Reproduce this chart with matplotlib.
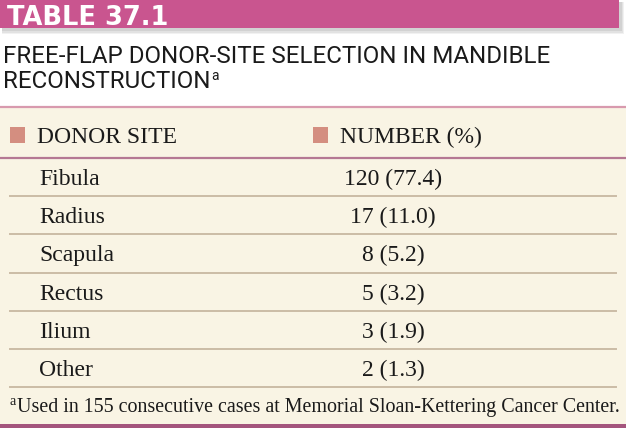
import matplotlib.pyplot as plt
from matplotlib.patches import Rectangle

table_no = "TABLE 37.1"
title_lines = ["FREE-FLAP DONOR-SITE SELECTION IN MANDIBLE", "RECONSTRUCTION"]
headers = ["DONOR SITE", "NUMBER (%)"]
sites = ["Fibula", "Radius", "Scapula", "Rectus", "Ilium", "Other"]
counts = [120, 17, 8, 5, 3, 2]
pcts = [77.4, 11.0, 5.2, 3.2, 1.9, 1.3]
footnote = "Used in 155 consecutive cases at Memorial Sloan-Kettering Cancer Center."

W, H = 626, 428
fig = plt.figure(figsize=(W / 100, H / 100), dpi=100, facecolor='white')
ax = fig.add_axes([0, 0, 1, 1])
ax.set_xlim(0, W)
ax.set_ylim(H, 0)
ax.axis('off')

sans = ['Roboto', 'DejaVu Sans']
serif = ['Liberation Serif', 'DejaVu Serif']
r = fig.canvas.get_renderer()

# pink title bar with soft shadow
for i, a in enumerate([0.10, 0.12, 0.15]):
    ax.add_patch(Rectangle((2, 2), 620 + 2 - i, 32 - i * 1.5, color='#777777', alpha=a, lw=0))
ax.add_patch(Rectangle((0, 0), 619, 28, color='#c9558f', lw=0))
ax.text(7, 25, table_no, color='white', fontsize=18.5, fontweight='bold',
        family='DejaVu Sans', va='baseline')

# title, sized so the first line spans like the reference
t1 = ax.text(3, 63, title_lines[0], fontsize=18.5, family=sans, color='#1a1a1a', va='baseline')
w = t1.get_window_extent(r).width
fs = 18.5 * 548 / w
t1.set_fontsize(fs)
t2 = ax.text(3, 88, title_lines[1], fontsize=fs, family=sans, color='#1a1a1a', va='baseline')
bb = t2.get_window_extent(r)
ax.text(bb.x1 + 1, 80, "a", fontsize=10, family=sans, color='#1a1a1a', va='baseline')

# beige body
ax.add_patch(Rectangle((0, 107), W, 318, color='#f9f4e4', lw=0))
ax.plot([0, W], [107, 107], color='#d89aae', lw=1.6)
ax.plot([0, W], [158, 158], color='#b57893', lw=1.6)

# header
for x0, hd in zip([10, 313], headers):
    ax.add_patch(Rectangle((x0, 127), 15, 16, color='#d48e80', lw=0))
    ax.text(x0 + 27, 143, hd, fontsize=17, family=serif, color='#1a1a1a', va='baseline')

# rows
row_top, row_h = 158, 38.2
for i, (s, n, p) in enumerate(zip(sites, counts, pcts)):
    y0 = row_top + i * row_h
    ax.text(39, y0 + 27, s, fontsize=17, family=serif, color='#1a1a1a', va='baseline')
    ax.text(393, y0 + 27, f"{n} ({p:.1f})", fontsize=17, family=serif, color='#1a1a1a',
            va='baseline', ha='center')
    ax.plot([10, 616], [y0 + row_h, y0 + row_h], color='#cbbca6', lw=1.4)

# footnote
ax.text(9, 405, "a", fontsize=10, family=serif, color='#1a1a1a', va='baseline')
ax.text(17, 412, footnote, fontsize=14.45, family=serif, color='#1a1a1a', va='baseline')
ax.add_patch(Rectangle((0, 424), W, 4, color='#a4557d', lw=0))

plt.savefig('out.png', dpi=100, facecolor='white')
